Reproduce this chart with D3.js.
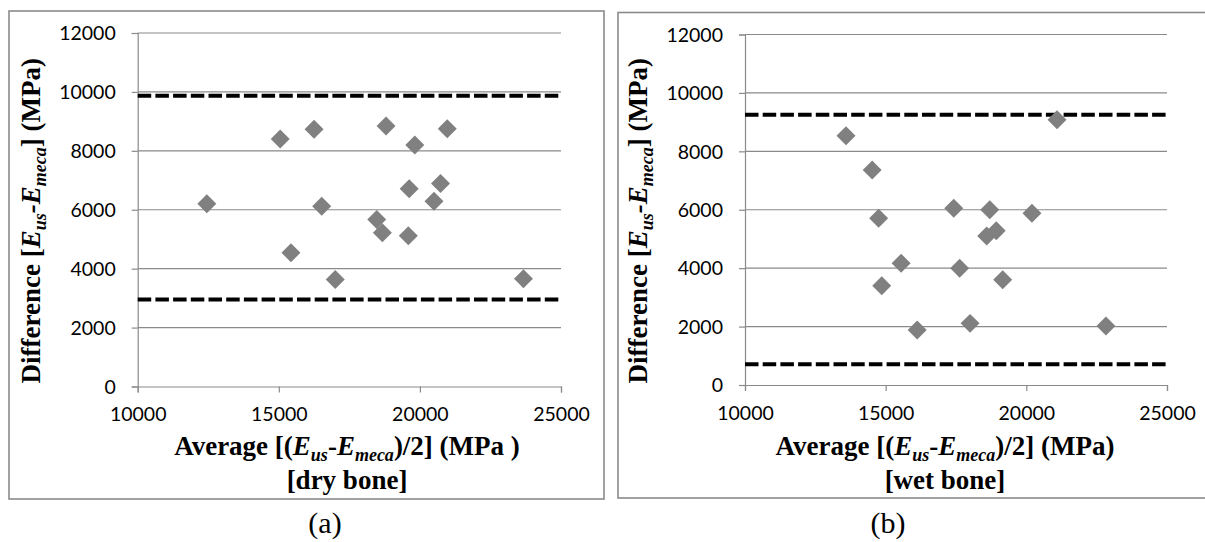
<!DOCTYPE html>
<html><head><meta charset="utf-8">
<script src="https://cdn.jsdelivr.net/npm/d3@7"></script>
<style>body{margin:0;background:#fff}svg{display:block}</style>
</head><body>
<svg id="c" width="1205" height="542"></svg>
<script>
// ---- data ----
const xTicks = [10000, 15000, 20000, 25000];
const yTicks = [0, 2000, 4000, 6000, 8000, 10000, 12000];
const dryX = [12450, 15050, 16250, 15430, 16520, 17000, 18800, 19820, 19620, 20970, 20730, 20500, 18470, 18670, 19590, 23670];
const dryY = [6200, 8400, 8730, 4540, 6120, 3630, 8840, 8200, 6710, 8750, 6890, 6290, 5670, 5220, 5120, 3660];
const wetX = [13590, 14520, 14750, 15550, 17630, 17420, 18700, 18590, 18930, 20200, 21090, 14860, 19160, 16120, 18000, 22830];
const wetY = [8530, 7360, 5710, 4170, 4000, 6050, 6000, 5100, 5280, 5880, 9080, 3400, 3600, 1880, 2110, 2020];
const dryLimits = [2950, 9870];
const wetLimits = [710, 9250];
const captions = ["(a)", "(b)"];
const conditions = ["[dry bone]", "[wet bone]"];
const mpaText = ["(MPa )", "(MPa)"];

// ---- layout ----
const panels = [
  {bx: 9, by: 11, bw: 595, bh: 488, l: 137.7, r: 561, t: 33, b: 386.5, ylx: 40, tcx: 347, capx: 325,
   xs: dryX, ys: dryY, lim: dryLimits},
  {bx: 618, by: 12.5, bw: 600, bh: 485.5, l: 745, r: 1167, t: 34.5, b: 385, ylx: 647, tcx: 945, capx: 888,
   xs: wetX, ys: wetY, lim: wetLimits}
];
const grey = "#8a8a8a";
const svg = d3.select("#c");

function addRich(textSel, segs) {
  segs.forEach(s => {
    const ts = textSel.append("tspan").text(s.t);
    if (s.i) ts.attr("font-style", "italic");
    if (s.sub) ts.attr("font-size", "18px").attr("dy", 6);
    if (s.back) ts.attr("dy", -6);
  });
}

panels.forEach((p, k) => {
  const g = svg.append("g");
  g.append("rect").attr("x", p.bx).attr("y", p.by).attr("width", p.bw).attr("height", p.bh)
    .attr("fill", "#fff").attr("stroke", grey).attr("stroke-width", 1.6);

  const x = d3.scaleLinear().domain([10000, 25000]).range([p.l, p.r]);
  const y = d3.scaleLinear().domain([0, 12000]).range([p.b, p.t]);

  // gridlines
  g.append("g").selectAll("line").data(yTicks.filter(d => d > 0)).join("line")
    .attr("x1", p.l).attr("x2", p.r).attr("y1", d => y(d)).attr("y2", d => y(d))
    .attr("stroke", grey).attr("stroke-width", 1.2);

  const yAxis = d3.axisLeft(y).tickValues(yTicks).tickSize(6).tickPadding(16).tickFormat(d3.format("d"));
  const xAxis = d3.axisBottom(x).tickValues(xTicks).tickSize(6).tickPadding(14).tickFormat(d3.format("d"));
  const ya = g.append("g").attr("transform", `translate(${p.l},0)`).call(yAxis);
  const xa = g.append("g").attr("transform", `translate(0,${p.b})`).call(xAxis);
  [ya, xa].forEach(a => {
    a.select(".domain").attr("stroke", grey).attr("stroke-width", 1.2);
    a.selectAll(".tick line").attr("stroke", grey).attr("stroke-width", 1.2);
    a.selectAll("text").attr("font-family", "Lato, 'Open Sans', sans-serif").attr("font-size", "19.5px").attr("fill", "#000");
  });
  ya.selectAll("text").attr("dy", "0.35em");
  xa.selectAll("text").attr("dy", "0.75em");

  // limit lines
  g.append("g").selectAll("line").data(p.lim).join("line")
    .attr("x1", p.l).attr("x2", p.r).attr("y1", d => y(d)).attr("y2", d => y(d))
    .attr("stroke", "#000").attr("stroke-width", 4).attr("stroke-dasharray", "13.5,4.2");

  // points
  const sym = d3.symbol().type(d3.symbolSquare).size(180);
  g.append("g").selectAll("path").data(p.xs.map((v, i) => [v, p.ys[i]])).join("path")
    .attr("d", sym).attr("fill", "#808080")
    .attr("transform", d => `translate(${x(d[0])},${y(d[1])}) rotate(45)`);

  // x title
  const tf = "'Liberation Serif', 'Times New Roman', serif";
  const xt = g.append("text").attr("x", p.tcx).attr("y", 455).attr("text-anchor", "middle")
    .attr("font-family", tf).attr("font-weight", "bold").attr("font-size", "27px");
  addRich(xt, [{t: "Average [("}, {t: "E", i: true}, {t: "us", i: true, sub: true},
    {t: "-", back: true}, {t: "E", i: true}, {t: "meca", i: true, sub: true},
    {t: ")/2] " + mpaText[k], back: true}]);
  g.append("text").attr("x", p.tcx).attr("y", 489).attr("text-anchor", "middle")
    .attr("font-family", tf).attr("font-weight", "bold").attr("font-size", "27px").text(conditions[k]);

  // y title
  const ycy = (p.t + p.b) / 2 + 11;
  const yt = g.append("text").attr("transform", `translate(${p.ylx},${ycy}) rotate(-90)`)
    .attr("text-anchor", "middle").attr("font-family", tf).attr("font-weight", "bold").attr("font-size", "27px");
  addRich(yt, [{t: "Difference  ["}, {t: "E", i: true}, {t: "us", i: true, sub: true},
    {t: "-", i: true, back: true}, {t: "E", i: true}, {t: "meca", i: true, sub: true},
    {t: "] (MPa)", back: true}]);

  // caption
  svg.append("text").attr("x", p.capx).attr("y", 533).attr("text-anchor", "middle")
    .attr("font-family", tf).attr("font-size", "30px").text(captions[k]);
});
</script>
</body></html>
